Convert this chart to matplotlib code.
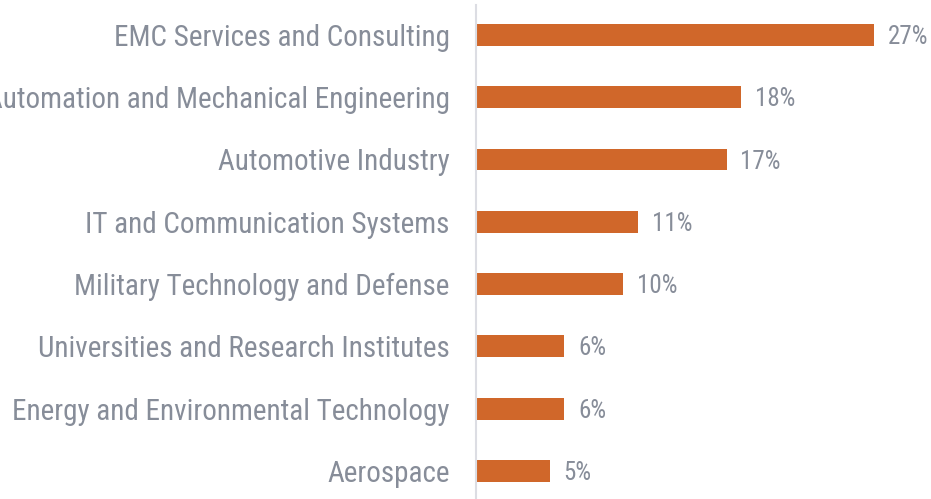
import matplotlib.pyplot as plt
from matplotlib import font_manager

# industries and share of respondents (%)
industries = [
    "EMC Services and Consulting",
    "Automation and Mechanical Engineering",
    "Automotive Industry",
    "IT and Communication Systems",
    "Military Technology and Defense",
    "Universities and Research Institutes",
    "Energy and Environmental Technology",
    "Aerospace",
]
shares = [27, 18, 17, 11, 10, 6, 6, 5]
share_labels = ["27%", "18%", "17%", "11%", "10%", "6%", "6%", "5%"]

names = {f.name for f in font_manager.fontManager.ttflist}
family = "Roboto Condensed" if "Roboto Condensed" in names else "Roboto"
plt.rcParams["font.family"] = [family, "DejaVu Sans"]

bar_color = "#d0672a"
text_color = "#878d99"

fig = plt.figure(figsize=(9.31, 4.99), dpi=100)
ax = fig.add_axes([476 / 931, 0, 1 - 476 / 931, 494 / 499])

y = list(range(len(industries)))
ax.barh(y, shares, height=0.35, color=bar_color)

for yi, v, lab in zip(y, shares, share_labels):
    ax.annotate(lab, (v, yi), xytext=(10, -1.5), textcoords="offset points",
                va="center", ha="left", fontsize=18, color=text_color)

ax.set_yticks(y)
ax.set_yticklabels(industries, fontsize=21, color=text_color)
ax.tick_params(axis="y", length=0, pad=19)
ax.set_xticks([])
ax.set_xlim(0, (931 - 476) / 14.74)
ax.set_ylim(7.45, -0.48)

for s in ["top", "right", "bottom"]:
    ax.spines[s].set_visible(False)
ax.spines["left"].set_color("#dcdde3")
ax.spines["left"].set_linewidth(1.5)

fig.savefig("out.png", dpi=100)
